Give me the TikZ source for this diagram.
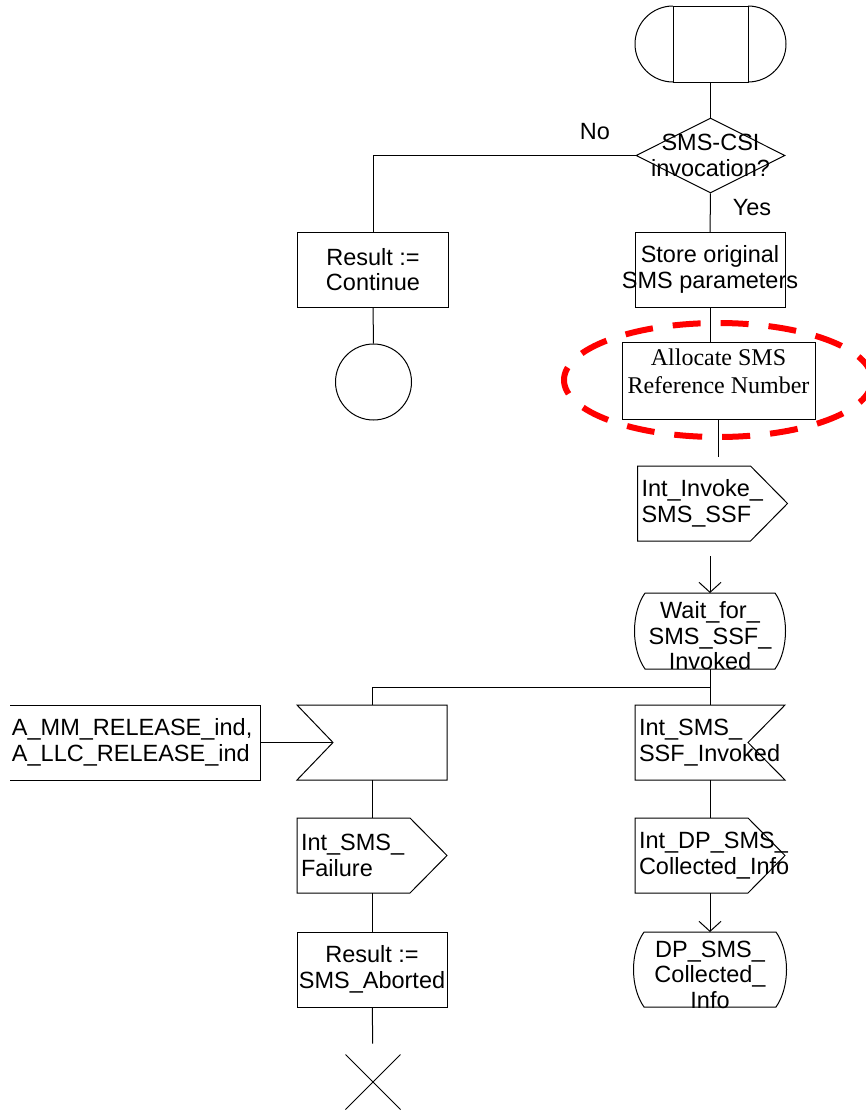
\documentclass[tikz,border=0pt]{standalone}
\usepackage{fontspec}
\setmainfont{Liberation Sans}
\newfontfamily\timesfont{Liberation Serif}
\usepackage{tikz}
\usetikzlibrary{arrows.meta, shapes.geometric, shapes.misc, calc}
\definecolor{Mark}{HTML}{FF0000}

\newcommand{\sdlout}[1]{\draw (#1.north west) -- ([xshift=-37pt]#1.north east) -- (#1.east) -- ([xshift=-37pt]#1.south east) -- (#1.south west) -- cycle;}
\newcommand{\sdlin}[1]{\draw (#1.north west) -- (#1.north east) -- (#1.south east) -- (#1.south west) -- ([xshift=36pt]#1.west) -- cycle;}
\newcommand{\sdlinr}[1]{\draw (#1.north west) -- (#1.north east) -- ([xshift=-37pt]#1.east) -- (#1.south east) -- (#1.south west) -- cycle;}
\newcommand{\sdlstate}[1]{\draw ([xshift=11pt]#1.north west) -- ([xshift=-11pt]#1.north east)
  .. controls +(14pt,-20pt) and +(14pt,20pt) .. ([xshift=-11pt]#1.south east)
  -- ([xshift=11pt]#1.south west)
  .. controls +(-14pt,20pt) and +(-14pt,-20pt) .. ([xshift=11pt]#1.north west);}

\begin{document}
\begin{tikzpicture}[
  x=1pt, y=-1pt,
  font=\fontsize{23.5}{25.5}\selectfont,
  line width=1pt,
  sym/.style={minimum width=150pt, minimum height=75pt, inner sep=0pt, outer sep=0pt},
  box/.style={sym, draw, align=center},
  sig/.style={sym, text width=142pt, align=left},
  state/.style={sym, minimum width=152pt, minimum height=76pt},
  statetext/.style={align=center, yshift=-5pt},
  hilite/.style={ellipse, draw=Mark, line width=6pt, dash pattern=on 28pt off 20pt, minimum width=308pt, minimum height=114pt},
  flow/.style={-{Straight Barb[length=10pt, width=22pt]}}
]
\useasboundingbox (0,0) rectangle (866,1111);

\node[sym, draw, minimum width=75pt, minimum height=76pt] (start) at (710.5,44) {};
\draw (start.north west) arc[start angle=90, end angle=270, radius=38pt];
\draw (start.north east) arc[start angle=90, end angle=-90, radius=38pt];

\node[diamond, draw, minimum width=149pt, minimum height=75pt, inner sep=0pt,
  label={[align=center]center:{SMS-CSI\\invocation?}}] (dec) at (710.5,155.5) {};
\node (lblno) at (595,132) {No};
\node (lblyes) at (752,208) {Yes};

\node[box, minimum width=151pt] (cont) at (373,269.5) {Result :=\\Continue};
\node[circle, draw, minimum size=76pt, inner sep=0pt] (conn) at (373.5,382) {};
\node[box, label={[align=center]center:{Store original\\SMS parameters}}] (store) at (710,269.5) {};
\node[box, minimum width=193pt, minimum height=77pt,
  label={[font=\timesfont\fontsize{24}{28}\selectfont, align=center, yshift=9.5pt]center:{Allocate SMS\\Reference Number}}] (alloc) at (718.5,380.5) {};
\node[hilite] (ring) at (718,380) {};

\node[sig] (invoke) at (712.5,503.5) {Int\_Invoke\_\\SMS\_SSF};
\sdlout{invoke}
\node[state, label={[statetext]center:{Wait\_for\_\\SMS\_SSF\_\\Invoked}}] (wait) at (710,631) {};
\sdlstate{wait}

\node[sym, minimum width=250pt, text width=246pt, align=left] (relsig) at (135,742.5) {A\_MM\_RELEASE\_ind,\\A\_LLC\_RELEASE\_ind};
\draw (relsig.north west) -- (relsig.north east) -- (relsig.south east) -- (relsig.south west);
\node[sym] (relin) at (372,742.5) {};
\sdlin{relin}
\node[sig] (ssf) at (710,742.5) {Int\_SMS\_\\SSF\_Invoked};
\sdlinr{ssf}

\node[sig] (fail) at (372,855.5) {Int\_SMS\_\\Failure};
\sdlout{fail}
\node[sig] (dp) at (710,855.5) {Int\_DP\_SMS\_\\Collected\_Info};
\sdlout{dp}

\node[box] (abort) at (372,969.5) {Result :=\\SMS\_Aborted};
\node[state, minimum width=154pt, minimum height=75pt, label={[statetext]center:{DP\_SMS\_\\Collected\_\\Info}}] (dpstate) at (710,969.5) {};
\sdlstate{dpstate}
\node[cross out, draw, minimum size=54pt, inner sep=0pt] (stop) at (373,1082) {};

\draw (start) -- (dec);
\draw (dec.west) -| (cont.north);
\draw (dec) -- (store);
\draw (cont) -- (conn);
\draw (store.south) -- (store.south |- alloc.north);
\draw[shorten >=9pt] (alloc.south) -- (alloc.south |- invoke.north);
\draw[flow, shorten <=15pt] (wait.north |- invoke.south) -- (wait.north);
\coordinate (fork) at ($(wait.south)!0.5!(ssf.north)$);
\draw (wait.south) -- (ssf.north);
\draw (fork) -| (relin.north);
\draw (relsig.east) -- ([xshift=36pt]relin.west);
\draw (relin) -- (fail);
\draw (fail) -- (abort);
\draw[shorten >=11pt] (abort) -- (stop);
\draw (ssf) -- (dp);
\draw[flow] (dp) -- (dpstate);
\end{tikzpicture}
\end{document}
